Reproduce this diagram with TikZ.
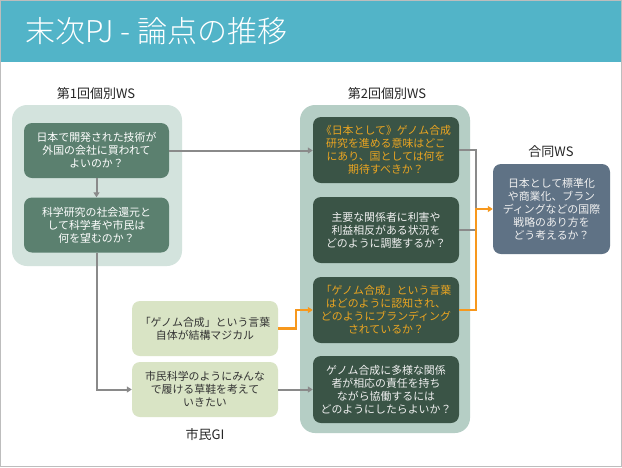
\documentclass[tikz,border=0pt]{standalone}
\usepackage{fontspec}
\setmainfont{Noto Sans CJK JP}
\newfontfamily\titlefont{Noto Sans CJK JP Light}
\usetikzlibrary{arrows.meta}
\definecolor{titlebar}{HTML}{52B4C8}
\definecolor{grpA}{HTML}{D3E3DD}
\definecolor{grpB}{HTML}{B5CEC5}
\definecolor{boxone}{HTML}{5B806F}
\definecolor{boxtwo}{HTML}{3A5446}
\definecolor{orangetxt}{HTML}{EBA521}
\definecolor{orangeln}{HTML}{F7981D}
\definecolor{gibox}{HTML}{D9E4C5}
\definecolor{jointbox}{HTML}{5F7285}
\definecolor{greyln}{HTML}{8A8A8A}
\definecolor{frameln}{HTML}{BDBDBD}
\tikzset{
  base/.style={rounded corners=8pt, align=center, inner sep=2pt,
    font=\fontsize{10.9}{13}\selectfont},
  wsone/.style={base, fill=boxone, text=white, minimum width=145pt, minimum height=55pt},
  wstwo/.style={base, fill=boxtwo, text=white!94!black, minimum width=146pt, minimum height=66pt},
  orangebox/.style={wstwo, text=orangetxt},
  gistyle/.style={base, fill=gibox, text=black!80, minimum width=146pt, minimum height=55pt},
  jointstyle/.style={base, fill=jointbox, text=white!94!black, minimum width=117pt, minimum height=90pt},
  grouplabel/.style={font=\fontsize{13}{15}\selectfont, text=black!85},
  greyconn/.style={draw=greyln, line width=2pt, -{Triangle[length=5pt,width=6pt]}},
  orangeconn/.style={draw=orangeln, line width=2.2pt, -{Triangle[length=5pt,width=6pt]}},
}
\begin{document}
\begin{tikzpicture}[x=1pt, y=-1pt]
\useasboundingbox (0,0) rectangle (622,467);
\fill[white] (0,0) rectangle (622,467);
\draw[frameln, line width=1.2pt] (0.6,0.6) rectangle (621.4,466.4);
\fill[titlebar] (1.2,1.2) rectangle (620.8,62);
\node[anchor=west, text=white, font=\titlefont\fontsize{30}{34}\selectfont, inner sep=0pt] (title) at (25,31) {末次PJ - 論点の推移};

% group backgrounds
\fill[grpA, rounded corners=15pt] (12,105) rectangle (182,266);
\fill[grpB, rounded corners=15pt] (300,105) rectangle (470,433);

% labels
\node[grouplabel] (lab1) at (96,94) {第1回個別WS};
\node[grouplabel] (lab2) at (387,94) {第2回個別WS};
\node[grouplabel] (lab3) at (551,152) {合同WS};
\node[grouplabel] (lab4) at (205,435) {市民GI};

% boxes
\node[wsone] (box1) at (96.5,150.5) {日本で開発された技術が\\外国の会社に買われて\\よいのか？};
\node[wsone] (box2) at (96.5,225) {科学研究の社会還元と\\して科学者や市民は\\何を望むのか？};

\node[orangebox] (boxA) at (386,150) {《日本として》ゲノム合成\\研究を進める意味はどこ\\にあり、国としては何を\\期待すべきか？};
\node[wstwo] (boxB) at (386,230) {主要な関係者に利害や\\利益相反がある状況を\\どのように調整するか？};
\node[orangebox] (boxC) at (386,310) {「ゲノム合成」という言葉\\はどのように認知され、\\どのようにブランディング\\されているか？};
\node[wstwo, minimum height=67pt] (boxD) at (386,389.5) {ゲノム合成に多様な関係\\者が相応の責任を持ち\\ながら協働するには\\どのようにしたらよいか？};

\node[gistyle] (gi1) at (205,328.5) {「ゲノム合成」という言葉\\自体が結構マジカル};
\node[gistyle] (gi2) at (205,389.5) {市民科学のようにみんな\\で履ける草鞋を考えて\\いきたい};

\node[jointstyle] (joint) at (551.5,209) {日本として標準化\\や商業化、ブラン\\ディングなどの国際\\戦略のあり方を\\どう考えるか？};

% junction coordinates
\coordinate (jb) at (476,230);
\coordinate (jo) at (476,209);
\coordinate (gij) at (296,310);

% connectors
\draw[greyconn] (box1.south) -- (box2.north);
\draw[greyconn] (box1.east) -- (box1.east -| boxA.west);
\draw[greyconn] (box2.south) |- (gi2.west);
\draw[greyconn] (gi2.east) -- (gi2.east -| boxD.west);
\draw[draw=greyln, line width=2pt] (boxA.east) -| (jb) -- (boxB.east);
\draw[orangeconn] (gi1.east) -| (gij) -- (boxC.west);
\draw[orangeconn] (boxC.east) -| (jo) -- (joint.west);
\end{tikzpicture}
\end{document}
